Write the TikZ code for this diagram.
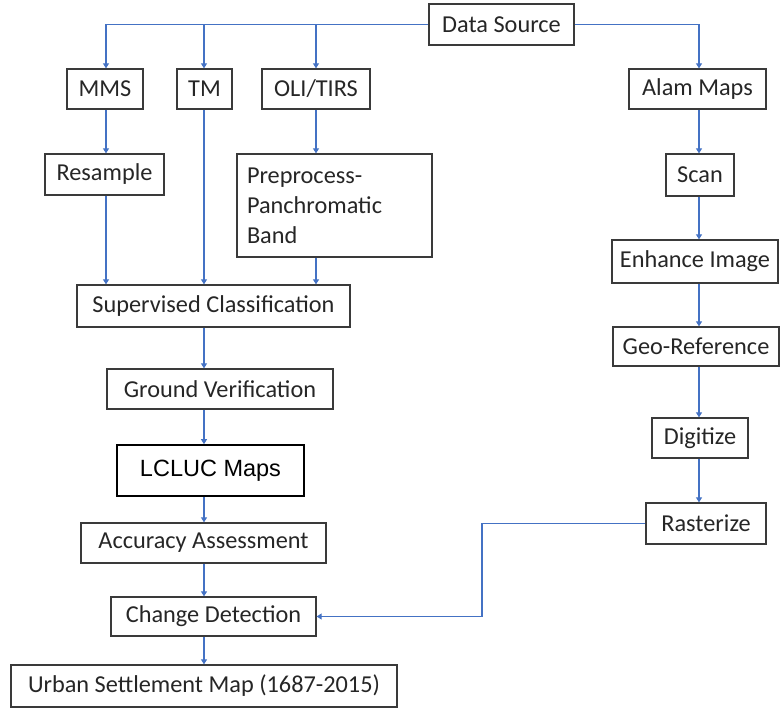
\documentclass[tikz,border=0pt]{standalone}
\usepackage{fontspec}
\setmainfont{Carlito}
\newfontfamily\arialfont{Liberation Sans}
\usetikzlibrary{arrows.meta,calc}
\definecolor{lineblue}{HTML}{4472C4}
\definecolor{boxgray}{HTML}{3A3A3A}
\begin{document}
\begin{tikzpicture}[x=1pt,y=-1pt,
  box/.style={draw=boxgray,line width=1.3pt,inner sep=0pt,font=\fontsize{24.3}{30}\selectfont,text=black!85},
  arr/.style={draw=lineblue,line width=1.1pt,-{Triangle[width=6pt,length=5pt]}},
  ln/.style={draw=lineblue,line width=1.1pt}]
\useasboundingbox (0,0) rectangle (781,709);
% helper to place a box by its corner pixels
\newcommand{\pbox}[6][]{\node[box,#1,minimum width=#4-#2,minimum height=#5-#3] (#6) at ({(#2+#4)/2},{(#3+#5)/2})}
\pbox{429}{4}{574}{45}{ds} {Data Source};
\pbox{67}{69}{143}{109}{mms} {MMS};
\pbox{177}{69}{232}{109}{tm} {TM};
\pbox{262}{69}{370}{109}{oli} {OLI/TIRS};
\pbox{629}{69}{766}{109}{alam} {Alam Maps};
\pbox{45}{154}{164}{195}{res} {Resample};
\pbox[align=left,text width=175pt]{237}{154}{432}{257}{pre} {Preprocess-\\Panchromatic\\Band};
\pbox{666}{154}{734}{196}{scan} {Scan};
\pbox{612}{240}{778}{283}{enh} {Enhance Image};
\pbox{613}{327}{779}{366}{geo} {Geo-Reference};
\pbox{652}{418}{748}{458}{dig} {Digitize};
\pbox{646}{503}{766}{544}{ras} {Rasterize};
\pbox{77}{285}{350}{327}{sup} {Supervised Classification};
\pbox{107}{369}{333}{409}{gv} {Ground Verification\hspace{10pt}};
\pbox[draw=black,line width=1.6pt,font=\arialfont\fontsize{23.5}{28}\selectfont,text=black]{117}{445}{304}{496}{lcluc} {LCLUC Maps};
\pbox{81}{523}{326}{563}{acc} {Accuracy Assessment\hspace{8pt}};
\pbox{111}{597}{316}{636}{cd} {Change Detection};
\pbox{11}{665}{397}{707}{usm} {Urban Settlement Map (1687-2015)};
% column coordinates
\coordinate (cA) at (106,0);
\coordinate (cB) at (204,0);
\coordinate (cC) at (316,0);
\coordinate (cD) at (699,0);
\coordinate (bend) at (482,570);
% top distribution
\draw[ln] (ds.west) -| (cA |- ds.west);
\draw[arr] (cA |- ds.west) -- (cA |- mms.north);
\draw[arr] (cB |- ds.west) -- (cB |- tm.north);
\draw[arr] (cC |- ds.west) -- (cC |- oli.north);
\draw[arr] (ds.east) -| (cD |- alam.north);
% left branches
\draw[arr] (cA |- mms.south) -- (cA |- res.north);
\draw[arr] (cA |- res.south) -- (cA |- sup.north);
\draw[arr] (cB |- tm.south) -- (cB |- sup.north);
\draw[arr] (cC |- oli.south) -- (cC |- pre.north);
\draw[arr] (cC |- pre.south) -- (cC |- sup.north);
% central column
\draw[arr] (cB |- sup.south) -- (cB |- gv.north);
\draw[arr] (cB |- gv.south) -- (cB |- lcluc.north);
\draw[arr] (cB |- lcluc.south) -- (cB |- acc.north);
\draw[arr] (cB |- acc.south) -- (cB |- cd.north);
\draw[arr] (cB |- cd.south) -- (cB |- usm.north);
% right column
\draw[arr] (cD |- alam.south) -- (cD |- scan.north);
\draw[arr] (cD |- scan.south) -- (cD |- enh.north);
\draw[arr] (cD |- enh.south) -- (cD |- geo.north);
\draw[arr] (cD |- geo.south) -- (cD |- dig.north);
\draw[arr] (cD |- dig.south) -- (cD |- ras.north);
% rasterize to change detection
\draw[arr] (ras.west) -| (bend) |- (cd.east);
\end{tikzpicture}
\end{document}
